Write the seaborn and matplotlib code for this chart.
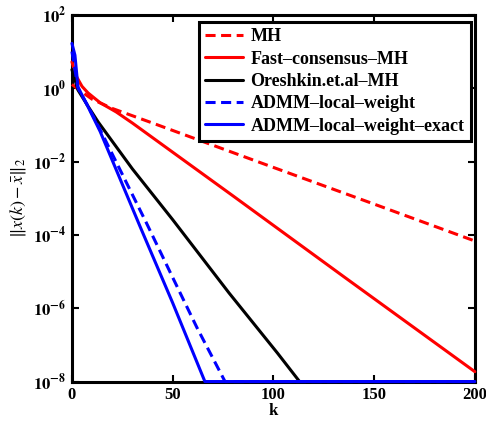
import numpy as np
import pandas as pd
import seaborn as sns
import matplotlib
matplotlib.use("Agg")
import matplotlib.pyplot as plt
from matplotlib.ticker import FixedLocator, FuncFormatter

# values (k, ||x(k) - xbar||_2), floor at 1e-8
k_mh = [0, 5, 10, 20, 40, 75, 100, 150, 200]
e_mh = [1.26, 0.79, 0.50, 0.28, 0.112, 0.022, 6.9e-3, 6.9e-4, 6.8e-5]

k_fast = [0, 2, 5, 8, 14, 22, 30, 80, 135, 200]
e_fast = [5.2, 2.2, 1.12, 0.74, 0.40, 0.224, 0.112, 1.15e-3, 7.2e-6, 1.86e-8]

k_ore = [0, 3, 8, 13, 30, 50, 78, 102, 113, 200]
e_ore = [3.2, 0.89, 0.32, 0.12, 6.3e-3, 2.6e-4, 2.6e-6, 6.0e-8, 1e-8, 1e-8]

k_admm = [0, 3, 8, 14, 37, 50, 62, 76, 200]
e_admm = [10.0, 1.0, 0.32, 0.074, 2.1e-4, 6.9e-6, 3.0e-7, 1e-8, 1e-8]

k_exact = [0, 1.5, 3, 8, 14, 34, 50, 66, 200]
e_exact = [16.6, 7.9, 1.07, 0.31, 0.066, 1.6e-4, 1.4e-6, 1e-8, 1e-8]

labels = ["MH", "Fast\u2013consensus\u2013MH", "Oreshkin.et.al\u2013MH",
          "ADMM\u2013local\u2013weight", "ADMM\u2013local\u2013weight\u2013exact"]
colors = ["#ff0000", "#ff0000", "#000000", "#0000ff", "#0000ff"]
dashed = [True, False, False, True, False]

sns.set_style("ticks", {"axes.edgecolor": "black", "xtick.color": "black",
                        "ytick.color": "black", "text.color": "black",
                        "axes.labelcolor": "black"})
plt.rcParams["font.family"] = ["Liberation Serif", "DejaVu Serif"]
plt.rcParams["mathtext.fontset"] = "stix"

fig = plt.figure(figsize=(4.86, 4.23), dpi=100)
ax = fig.add_axes([0.148, 0.098, 0.829, 0.867])

series = [(k_mh, e_mh), (k_fast, e_fast), (k_ore, e_ore),
          (k_admm, e_admm), (k_exact, e_exact)]
for (kk, ee), lab, col, dsh in zip(series, labels, colors, dashed):
    sns.lineplot(x=kk, y=ee, ax=ax, color=col, linewidth=2.2, label=lab,
                 clip_on=False, zorder=3)
    if dsh:
        ax.lines[-1].set_dashes((3.3, 1.8))

ax.set_yscale("log")
ax.set_xlim(0, 200)
ax.set_ylim(1e-8, 1e2)
ax.xaxis.set_major_locator(FixedLocator([0, 50, 100, 150, 200]))
ax.yaxis.set_major_locator(FixedLocator([1e-8, 1e-6, 1e-4, 1e-2, 1e0, 1e2]))
ax.yaxis.set_minor_locator(FixedLocator([]))
ax.yaxis.set_major_formatter(FuncFormatter(
    lambda v, p: r"$\mathbf{10^{%d}}$" % int(round(np.log10(v)))))
ax.tick_params(axis="both", which="both", direction="in", length=5, width=1.5,
               top=True, right=True, labelsize=12, pad=4, colors="black")
for t in ax.get_xticklabels():
    t.set_fontweight("bold")
for s in ax.spines.values():
    s.set_linewidth(2.2)
    s.set_color("black")
    s.set_visible(True)

ax.set_xlabel("k", fontsize=12, fontweight="bold", labelpad=0)
ax.set_ylabel(r"$\Vert x(k)-\bar{x}\Vert_2$", fontsize=13, labelpad=4)

leg = ax.legend(loc="upper right", bbox_to_anchor=(0.99, 0.981), borderaxespad=0,
                prop={"weight": "bold", "size": 13}, handlelength=2.1,
                handletextpad=0.4, labelspacing=0.3, borderpad=0.35,
                fancybox=False, framealpha=1, edgecolor="black")
leg.get_frame().set_linewidth(2.2)
for h, dsh in zip(leg.get_lines(), dashed):
    if dsh:
        h.set_dashes((3.3, 1.8))

fig.savefig("out.png", dpi=100)
